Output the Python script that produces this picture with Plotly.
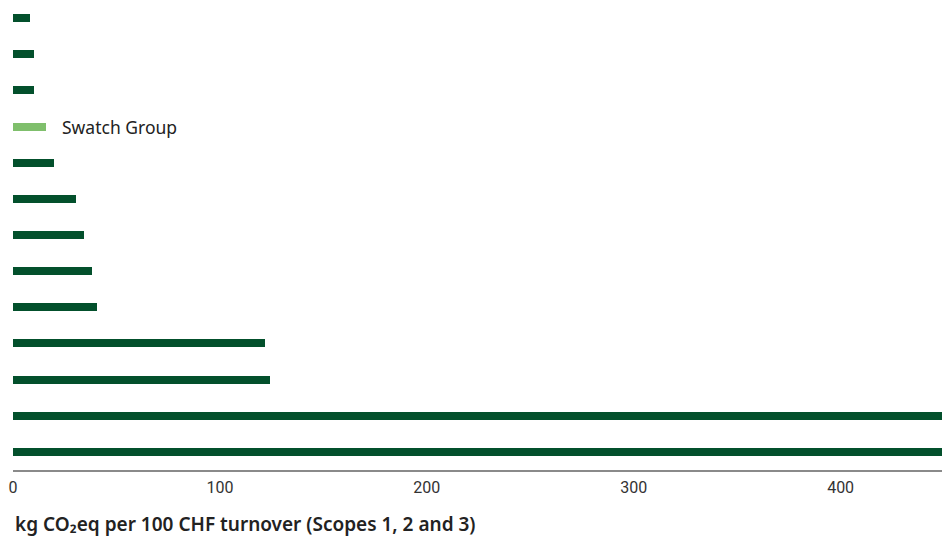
import plotly.graph_objects as go

# Rows top to bottom; only the Swatch Group row is labelled in the chart
companies = ["Peer 1", "Peer 2", "Peer 3", "Swatch Group", "Peer 5", "Peer 6", "Peer 7",
             "Peer 8", "Peer 9", "Peer 10", "Peer 11", "Peer 12", "Peer 13"]
intensity = [8.2, 10.1, 10.1, 15.9, 19.8, 30.4, 34.3, 38.2, 40.6, 122, 124, 520, 560]

DARK_GREEN = "#03502c"
LIGHT_GREEN = "#7fbf6c"
bar_colors = [LIGHT_GREEN if c == "Swatch Group" else DARK_GREEN for c in companies]

fig = go.Figure(go.Bar(
    x=intensity,
    y=companies,
    orientation="h",
    width=0.22,
    marker=dict(color=bar_colors, line=dict(width=0)),
    hoverinfo="x+y",
))

# label next to the Swatch Group bar
idx = companies.index("Swatch Group")
fig.add_annotation(
    x=intensity[idx], y=companies[idx], xref="x", yref="y",
    text="Swatch Group", showarrow=False, xanchor="left", xshift=14,
    font=dict(family="Noto Sans", size=17.5, color="#222222"),
)

# axis title, left aligned under the tick labels
fig.add_annotation(
    x=0, y=-0.115, xref="paper", yref="paper",
    text="kg CO₂eq per 100 CHF turnover (Scopes 1, 2 and 3)",
    showarrow=False, xanchor="left", yanchor="middle",
    font=dict(family="Noto Sans", size=19, color="#222222", weight=600),
)

fig.update_layout(
    width=942, height=539,
    margin=dict(l=13, r=0, t=0, b=69),
    paper_bgcolor="white",
    plot_bgcolor="white",
    showlegend=False,
    bargap=0,
    font=dict(family="Roboto", color="#333333"),
)
fig.update_xaxes(
    range=[0, 449],
    tickvals=[0, 100, 200, 300, 400],
    showgrid=False, zeroline=False,
    showline=True, linecolor="#8a8a8a", linewidth=2,
    ticks="", tickfont=dict(size=16, color="#333333"),
    ticklabelstandoff=2,
    fixedrange=True,
)
fig.update_yaxes(
    autorange="reversed",
    showticklabels=False, showgrid=False, zeroline=False, showline=False,
    ticks="", fixedrange=True,
)

# drop the default page margin so the figure fills the window
fig.write_html("out.html", config={"displayModeBar": False},
               post_script="document.body.style.margin='0';")
